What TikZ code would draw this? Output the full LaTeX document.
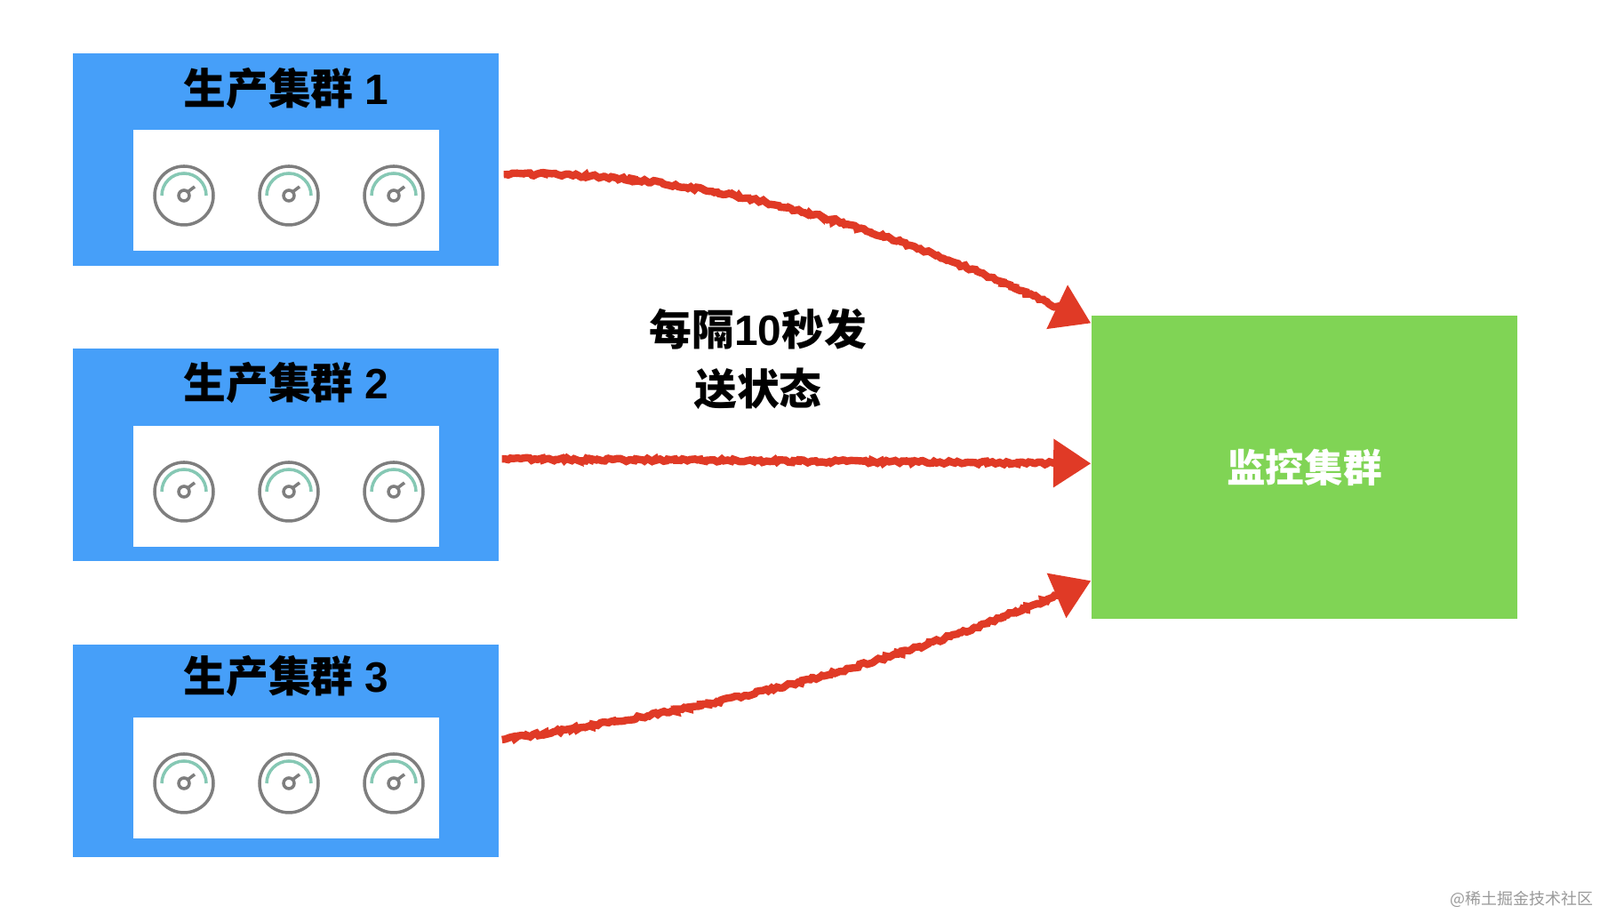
\documentclass[tikz,border=0pt]{standalone}
\usepackage{fontspec}
\setmainfont{Liberation Sans}
\newfontfamily\cjk{Noto Sans CJK SC}
\usetikzlibrary{positioning,arrows.meta,decorations.pathmorphing}
\definecolor{prodblue}{HTML}{469FF9}
\definecolor{monitorgreen}{HTML}{80D455}
\definecolor{sendred}{HTML}{E03A26}
\definecolor{gaugegray}{HTML}{7E7E7E}
\definecolor{gaugeteal}{HTML}{86C8B4}
\tikzset{
  prodbox/.style={fill=prodblue, minimum width=4.79cm, minimum height=2.39cm, inner sep=0},
  panelbox/.style={fill=white, minimum width=3.44cm, minimum height=1.36cm, inner sep=0},
  titletext/.style={font=\fontsize{13.6pt}{16pt}\selectfont\bfseries, inner sep=0},
  monitorbox/.style={fill=monitorgreen, minimum width=4.79cm, minimum height=3.41cm, inner sep=0,
    text=white, font=\fontsize{12.4pt}{15pt}\selectfont\cjk\bfseries},
  sendline/.style={draw=sendred, line width=2.4pt, -{Triangle[length=12pt,width=15pt]},
    decorate, decoration={random steps, segment length=0.9pt, amplitude=.5pt, pre length=1pt, post length=9pt}},
  pics/gauge/.style={code={
    \draw[gaugegray, line width=1pt] (0,0) circle (0.33);
    \draw[gaugeteal, line width=1pt] (0.25,0) arc (0:180:0.25);
    \draw[gaugegray, line width=1pt] (0,0) circle (0.06);
    \draw[gaugegray, line width=1pt] (0.04,0.04) -- (0.12,0.10);
  }}
}
\begin{document}
\begin{tikzpicture}
  \useasboundingbox (0,0) rectangle (18,10.28);
  % production clusters
  \foreach \i/\by/\py/\ty in {1/8.485/8.14/9.28, 2/5.16/4.81/5.97, 3/1.835/1.53/2.67} {
    \node[prodbox] (prod\i) at (3.215,\by) {};
    \node[panelbox] (panel\i) at (3.22,\py) {};
    \node[titletext] (title\i) at (3.22,\ty) {{\cjk 生产集群} \i};
    \foreach \gx in {2.07,3.25,4.43}
      \pic at (\gx,\py-0.06) {gauge};
  }
  % monitoring cluster
  \node[monitorbox] (monitor) at (14.675,5.025) {监控集群};
  \node[titletext, align=center] (sendnote) at (8.53,6.24) {{\cjk 每隔}10{\cjk 秒发}\\[2.9pt]\cjk 送状态};
  % send arrows
  \draw[sendline] (prod1.-4) ++(0.05,0) .. controls (8.2,8.37) and (10.3,7.6) .. (monitor.146);
  \draw[sendline] (prod2.-1) ++(0.03,0) -- (monitor.179);
  \draw[sendline] (prod3.3) ++(0.03,0) .. controls (8,2.3) and (10,2.75) .. (monitor.208.5);
  \node[anchor=east, inner sep=0, text=black!40, font=\fontsize{5.1pt}{7pt}\selectfont\cjk] (mark) at (17.93,0.17) {@稀土掘金技术社区};
\end{tikzpicture}
\end{document}
